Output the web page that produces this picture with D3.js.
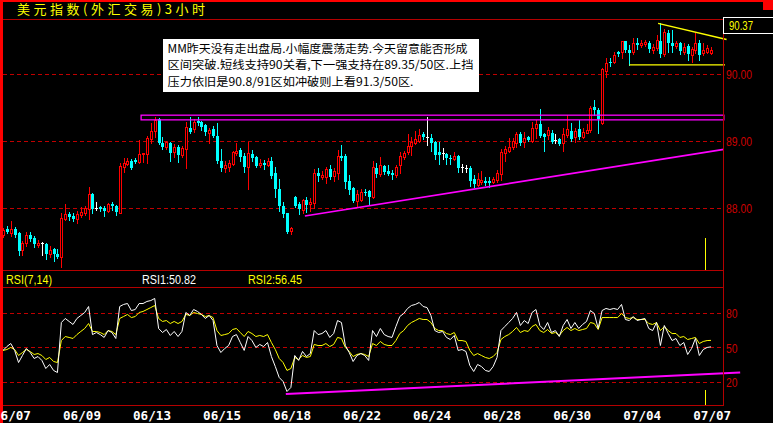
<!DOCTYPE html>
<html><head><meta charset="utf-8">
<script src="https://cdn.jsdelivr.net/npm/d3@7"></script>
<style>html,body{margin:0;padding:0;background:#000;overflow:hidden}</style>
</head><body><svg id="c" width="773" height="423"></svg>
<script>
// ---- data ----
const title = "美元指数(外汇交易)3小时";
// [open, high, low, close] per 3-hour bar
const ohlc = [
[87.60,87.71,87.57,87.68],[87.69,87.74,87.63,87.65],[87.63,87.81,87.59,87.69],[87.69,87.72,87.57,87.60],
[87.63,87.64,87.30,87.36],[87.38,87.51,87.30,87.48],[87.48,87.65,87.44,87.60],[87.60,87.65,87.51,87.54],
[87.56,87.59,87.42,87.47],[87.45,87.53,87.42,87.48],[87.48,87.50,87.30,87.48],[87.47,87.48,87.24,87.32],
[87.32,87.44,87.27,87.38],[87.39,87.41,87.21,87.32],[87.32,87.39,87.26,87.27],[87.27,87.93,87.12,87.86],
[87.84,88.06,87.83,87.92],[87.92,87.95,87.83,87.87],[87.89,87.93,87.81,87.84],[87.84,87.96,87.78,87.92],
[87.90,88.02,87.87,87.95],[87.93,88.03,87.90,88.00],[87.99,88.32,87.84,88.21],[88.21,88.23,87.93,87.99],
[88.00,88.09,87.97,88.00],[88.02,88.03,87.96,87.99],[88.00,88.03,87.89,87.96],[87.96,88.08,87.95,88.06],
[88.06,88.09,87.97,88.03],[88.03,88.05,87.90,87.95],[87.93,88.68,87.93,88.63],[88.62,88.75,88.54,88.68],
[88.66,88.75,88.65,88.71],[88.71,88.74,88.59,88.60],[88.72,88.75,88.68,88.69],[88.69,89.02,88.68,88.81],
[88.81,88.83,88.69,88.83],[88.81,89.08,88.68,89.05],[89.03,89.27,88.97,89.15],[89.15,89.36,89.06,89.32],
[89.33,89.35,88.96,88.97],[88.97,89.06,88.88,88.91],[88.91,89.00,88.88,88.99],[88.97,88.99,88.71,88.83],
[88.84,88.96,88.77,88.92],[88.92,88.95,88.69,88.80],[88.80,88.93,88.77,88.90],[88.89,89.29,88.60,89.21],
[89.20,89.36,89.12,89.14],[89.18,89.33,89.14,89.29],[89.30,89.36,89.24,89.27],[89.29,89.30,89.17,89.21],
[89.24,89.26,89.09,89.14],[89.12,89.20,88.97,89.17],[89.18,89.23,89.06,89.08],[89.08,89.27,88.68,88.71],
[88.71,88.89,88.56,88.60],[88.60,88.71,88.54,88.65],[88.62,88.72,88.56,88.68],[88.66,88.86,88.65,88.84],
[88.83,88.97,88.80,88.86],[88.87,88.90,88.71,88.77],[88.78,88.83,88.54,88.62],[88.62,88.99,88.29,88.83],
[88.81,88.87,88.71,88.75],[88.77,88.78,88.62,88.63],[88.65,88.74,88.62,88.68],[88.68,88.72,88.59,88.65],
[88.65,88.75,88.63,88.71],[88.71,88.77,88.45,88.48],[88.53,88.62,88.17,88.29],[88.29,88.44,87.96,88.03],
[88.03,88.09,87.87,87.92],[87.93,87.93,87.63,87.65],[87.66,87.72,87.62,87.71],[88.17,88.18,88.02,88.03],
[88.06,88.09,87.92,87.99],[87.98,88.14,87.93,88.12],[88.12,88.17,87.95,88.05],[88.06,88.15,87.96,88.09],
[88.08,88.59,88.00,88.53],[88.53,88.60,88.41,88.48],[88.47,88.56,88.44,88.50],[88.47,88.62,88.38,88.59],
[88.59,88.65,88.44,88.47],[88.48,88.60,88.41,88.56],[88.53,88.87,88.44,88.78],[88.78,88.94,88.72,88.75],
[88.78,88.81,88.30,88.39],[88.41,88.50,88.21,88.27],[88.30,88.32,88.09,88.11],[88.11,88.27,88.03,88.21],
[88.12,88.29,88.11,88.24],[88.24,88.29,88.20,88.23],[88.26,88.27,88.06,88.17],[88.17,88.71,88.15,88.62],
[88.60,88.68,88.47,88.51],[88.51,88.77,88.48,88.65],[88.63,88.65,88.51,88.54],[88.56,88.65,88.50,88.51],
[88.53,88.57,88.44,88.50],[88.50,88.65,88.47,88.62],[88.65,88.84,88.53,88.78],[88.77,88.86,88.74,88.83],
[88.84,89.11,88.81,88.93],[88.93,89.06,88.80,88.99],[88.97,89.15,88.96,89.03],[89.00,89.18,88.99,89.09],
[89.11,89.14,89.03,89.06],[89.06,89.36,88.94,89.06],[89.05,89.11,88.86,88.97],[88.99,89.00,88.74,88.80],
[88.84,88.99,88.66,88.80],[88.83,88.90,88.74,88.83],[88.81,88.83,88.66,88.75],[88.75,88.80,88.66,88.74],
[88.74,88.84,88.72,88.78],[88.78,88.80,88.54,88.60],[88.62,88.66,88.54,88.62],[88.60,88.65,88.54,88.60],
[88.60,88.63,88.33,88.41],[88.44,88.50,88.32,88.36],[88.35,88.53,88.33,88.44],[88.39,88.56,88.36,88.42],
[88.41,88.47,88.35,88.38],[88.41,88.47,88.32,88.38],[88.39,88.47,88.38,88.44],[88.42,88.57,88.39,88.53],
[88.51,88.89,88.42,88.84],[88.83,88.93,88.71,88.89],[88.86,89.05,88.84,88.92],[88.92,89.05,88.89,89.00],
[88.97,89.14,88.92,89.11],[89.11,89.14,88.95,88.97],[88.99,89.14,88.92,89.05],[89.06,89.08,89.00,89.02],
[89.00,89.29,88.99,89.20],[89.20,89.32,89.05,89.26],[89.26,89.48,89.06,89.08],[89.11,89.12,88.86,89.06],
[89.09,89.21,89.03,89.17],[89.12,89.17,88.97,88.99],[89.02,89.11,88.97,89.02],[89.03,89.05,88.95,88.96],
[88.97,89.20,88.86,89.11],[89.09,89.39,89.06,89.18],[89.15,89.27,89.00,89.03],[89.06,89.20,88.99,89.15],
[89.18,89.32,89.03,89.06],[89.06,89.20,89.05,89.14],[89.12,89.26,89.12,89.17],[89.17,89.53,89.14,89.50],
[89.51,89.62,89.39,89.47],[89.47,89.50,89.12,89.33],[89.27,90.09,89.26,90.08],[90.05,90.24,89.96,90.17],
[90.18,90.24,90.12,90.17],[90.18,90.33,90.17,90.29],[90.33,90.35,90.27,90.30],[90.33,90.50,90.24,90.50],
[90.50,90.50,90.33,90.36],[90.36,90.44,90.14,90.32],[90.33,90.54,90.30,90.47],[90.47,90.54,90.38,90.44],
[90.44,90.51,90.41,90.47],[90.45,90.51,90.42,90.48],[90.47,90.50,90.33,90.38],[90.36,90.45,90.32,90.41],
[90.39,90.59,90.36,90.51],[90.50,90.77,90.26,90.30],[90.30,90.68,90.27,90.63],[90.62,90.66,90.33,90.47],
[90.47,90.66,90.33,90.42],[90.42,90.50,90.39,90.47],[90.47,90.48,90.30,90.35],[90.33,90.47,90.30,90.41],
[90.42,90.45,90.21,90.30],[90.29,90.41,90.18,90.38],[90.36,90.62,90.32,90.47],[90.47,90.51,90.21,90.29],
[90.32,90.47,90.29,90.36],[90.33,90.44,90.32,90.39],[90.32,90.41,90.30,90.37]
];
const rsi1 = [47.7,51.1,53.7,47.7,37.2,43.3,49.4,45.9,40.7,42.4,39.0,32.0,35.5,30.3,28.5,72.0,75.5,72.9,70.3,75.5,
78.1,80.7,85.9,61.5,63.3,61.5,59.0,65.0,63.3,58.1,85.9,87.7,88.5,82.4,83.3,88.5,88.5,90.3,91.1,92.9,
66.8,63.3,65.9,60.7,64.2,59.8,64.2,80.7,78.1,83.3,81.6,79.0,75.5,78.1,73.7,52.0,45.9,49.4,52.0,59.8,
61.5,54.6,47.7,59.8,56.3,50.3,52.9,51.1,54.6,42.4,33.7,24.2,20.7,12.0,15.5,43.3,39.0,46.8,42.4,45.0,
65.0,61.5,62.4,65.0,59.0,62.4,73.7,72.0,52.0,45.9,38.1,43.3,45.0,43.3,39.0,65.0,59.8,66.8,61.5,59.8,
59.0,68.5,77.2,79.8,84.2,86.8,87.7,89.4,85.9,85.0,78.1,65.0,63.3,64.2,59.0,57.2,60.7,47.7,48.5,46.8,
34.6,29.4,35.5,33.7,30.3,29.4,33.7,41.6,65.0,68.5,72.0,75.5,80.7,69.4,73.7,71.1,80.7,83.3,69.4,65.9,
72.0,63.3,65.0,59.8,69.4,74.6,66.8,72.0,66.8,70.3,72.9,82.4,79.8,66.8,82.4,84.2,83.3,84.2,83.3,87.7,
74.6,73.7,77.2,73.7,74.6,75.5,66.8,65.0,72.0,52.0,69.4,62.4,56.3,58.1,52.0,54.6,44.2,49.4,58.1,43.3,
48.5,50.3,50.82];
const rsi2 = [47.7,48.5,50.3,48.5,43.3,45.9,48.5,46.8,44.2,45.0,43.3,39.8,41.6,38.1,37.2,56.3,59.8,59.0,58.1,61.5,
64.2,66.8,71.1,64.2,64.2,63.3,61.5,65.0,64.2,61.5,75.5,77.2,79.0,76.3,77.2,80.7,81.6,83.3,85.0,86.8,
75.5,72.9,73.7,71.1,72.9,71.1,72.9,79.0,78.1,80.7,79.8,79.0,77.2,78.1,76.3,65.0,60.7,61.5,62.4,65.9,
66.8,63.3,59.8,64.2,62.4,59.8,60.7,59.8,61.5,54.6,48.5,40.7,37.2,30.3,32.0,41.6,39.8,43.3,41.6,42.4,
52.9,52.0,52.0,53.7,51.1,52.9,59.0,58.1,50.3,46.8,42.4,44.2,45.0,44.2,42.4,53.7,52.0,55.5,52.9,52.0,
52.0,56.3,62.4,65.0,69.4,72.0,73.7,75.5,74.6,74.6,72.0,66.8,65.0,65.0,62.4,61.5,63.3,56.3,56.3,55.5,
47.7,43.3,45.0,43.3,41.6,40.7,42.4,45.9,57.2,59.8,61.5,64.2,67.7,63.3,65.0,64.2,68.5,70.3,65.0,63.3,
65.9,62.4,63.3,60.7,65.0,67.7,65.0,66.8,65.0,65.9,66.8,72.0,71.1,65.9,76.3,76.3,76.3,76.3,76.3,79.8,
76.3,75.5,76.3,74.6,74.6,74.6,71.1,70.3,72.0,65.0,68.5,65.0,62.4,62.4,59.0,59.8,57.2,58.1,59.0,53.7,
55.5,56.3,56.45];
const dateLabels = ["06/07","06/09","06/13","06/15","06/18","06/22","06/24","06/28","06/30","07/04","07/07"];
const dateIndex  = [2,20,38,56,74,92,110,128,146,164,182];
const priceTicks = [88,89,90];
const rsiTicks = [20,50,80];
const lastPrice = 90.37, rsi1Last = 50.82, rsi2Last = 56.45;
const noteLines = [
 "MM昨天没有走出盘局.小幅度震荡走势.今天留意能否形成",
 "区间突破.短线支持90关看,下一强支持在89.35/50区.上挡",
 "压力依旧是90.8/91区如冲破则上看91.3/50区."
];
// drawn annotations in data space [barIndex, value]
const boxZone = [[35.5,89.39],[185.3,89.32]];
const supportLine = [[77.6,87.885],[185.3,88.88]];
const flatLine = [[161,90.14],[185.6,90.14]];
const fallLine = [[168.4,90.76],[186,90.52]];
const rsiLine = [[72.7,9.8],[189.5,28.5]];
const cursorIndex = 180.5;

// ---- drawing ----
const svg = d3.select('#c').attr('shape-rendering','crispEdges');
const x = d3.scaleLinear().domain([0,182]).range([3,711]);
const yP = d3.scaleLinear().domain([88,90]).range([208.3,74.3]);
const yR = d3.scaleLinear().domain([20,80]).range([382.3,313.3]);
const RED='#ff0000', DRED='#b40000', GRID='#c00000', CYAN='#00ffff', YEL='#ffff00', MAG='#ff00ff';

svg.append('rect').attr('width',773).attr('height',423).attr('fill','#000');

// grid lines
const gP = svg.append('g');
priceTicks.forEach(t=>{
  const yy=Math.floor(yP(t))+0.5;
  gP.append('line').attr('x1',3).attr('x2',723).attr('y1',yy).attr('y2',yy)
    .attr('stroke',GRID).attr('stroke-dasharray','4,3');
});
rsiTicks.forEach(t=>{
  const yy=Math.floor(yR(t))+0.5;
  gP.append('line').attr('x1',3).attr('x2',723).attr('y1',yy).attr('y2',yy)
    .attr('stroke',GRID).attr('stroke-dasharray','4,3');
});

// annotation box
const ng = svg.append('g');
ng.append('rect').attr('x',163).attr('y',39).attr('width',316).attr('height',53).attr('fill','#fff');
const noteW=[300,306,246], noteY=[52.5,69,85.5];
noteLines.forEach((s,i)=>{
  ng.append('text').attr('x',167.5).attr('y',noteY[i]).text(s)
    .attr('font-family','"Noto Sans CJK SC","Noto Sans CJK JP",sans-serif').attr('font-size',11.5)
    .attr('fill','#000').attr('textLength',noteW[i]).attr('lengthAdjust','spacingAndGlyphs');
});

// candles
const cg = svg.append('g');
ohlc.forEach((d,i)=>{
  const [o,h,l,c]=d;
  const cx=Math.round(x(i));
  const top=Math.round(yP(Math.max(o,c))), bot=Math.round(yP(Math.min(o,c)));
  const yh=Math.round(yP(h)), yl=Math.round(yP(l));
  if (Math.abs(c-o)<0.005) {
    cg.append('line').attr('x1',cx+0.5).attr('x2',cx+0.5).attr('y1',yh).attr('y2',yl+1).attr('stroke','#fff');
    cg.append('line').attr('x1',cx-1).attr('x2',cx+2).attr('y1',top+0.5).attr('y2',top+0.5).attr('stroke','#fff');
  } else if (c>o) {
    cg.append('line').attr('x1',cx+0.5).attr('x2',cx+0.5).attr('y1',yh).attr('y2',top).attr('stroke',RED);
    cg.append('line').attr('x1',cx+0.5).attr('x2',cx+0.5).attr('y1',bot).attr('y2',yl+1).attr('stroke',RED);
    cg.append('rect').attr('x',cx-0.5).attr('y',top+0.5).attr('width',2).attr('height',Math.max(bot-top,1))
      .attr('fill','#000').attr('stroke',RED);
  } else {
    cg.append('line').attr('x1',cx+0.5).attr('x2',cx+0.5).attr('y1',yh).attr('y2',yl+1).attr('stroke',CYAN);
    cg.append('rect').attr('x',cx-1).attr('y',top).attr('width',3).attr('height',Math.max(bot-top,1)).attr('fill',CYAN);
  }
});

// price annotations
const ag = svg.append('g').attr('shape-rendering','auto');
ag.append('rect').attr('x',x(boxZone[0][0])).attr('y',yP(boxZone[0][1]))
  .attr('width',x(boxZone[1][0])-x(boxZone[0][0])).attr('height',yP(boxZone[1][1])-yP(boxZone[0][1]))
  .attr('fill','none').attr('stroke',MAG).attr('stroke-width',1.3);
const pl = d3.line().x(d=>x(d[0])).y(d=>yP(d[1]));
ag.append('path').attr('d',pl(supportLine)).attr('stroke',MAG).attr('stroke-width',1.6).attr('fill','none');
ag.append('path').attr('d',pl(flatLine)).attr('stroke',YEL).attr('stroke-width',1.3).attr('fill','none');
ag.append('path').attr('d',pl(fallLine)).attr('stroke',YEL).attr('stroke-width',1.5).attr('fill','none');

// RSI lines
const rl = d3.line().x((d,i)=>x(i)).y(d=>yR(d));
const rg = svg.append('g').attr('shape-rendering','auto');
rg.append('path').attr('d',rl(rsi2)).attr('stroke',YEL).attr('stroke-width',1).attr('fill','none');
rg.append('path').attr('d',rl(rsi1)).attr('stroke','#fff').attr('stroke-width',1).attr('fill','none');
rg.append('path').attr('d',d3.line().x(d=>x(d[0])).y(d=>yR(d[1]))(rsiLine))
  .attr('stroke',MAG).attr('stroke-width',2).attr('fill','none');

// cursor
const cxr=Math.round(x(cursorIndex))+0.5;
svg.append('line').attr('x1',cxr).attr('x2',cxr).attr('y1',238).attr('y2',270).attr('stroke',YEL);
svg.append('line').attr('x1',cxr).attr('x2',cxr).attr('y1',390).attr('y2',405).attr('stroke',YEL);

// frames
const fr = svg.append('g');
[[3,723,19.5,19.5],[3,723,270.5,270.5],[3,723,287.5,287.5],[3,723,405.5,405.5],[723.5,723.5,19,406]].forEach(a=>{
  fr.append('line').attr('x1',a[0]).attr('x2',a[1]).attr('y1',a[2]).attr('y2',a[3]).attr('stroke',DRED);
});
svg.append('rect').attr('x',0).attr('y',0).attr('width',3).attr('height',423).attr('fill',RED);
svg.append('rect').attr('x',0).attr('y',0).attr('width',773).attr('height',2).attr('fill',RED);
svg.append('rect').attr('x',763).attr('y',0).attr('width',10).attr('height',10).attr('fill',RED);

// axes
const numFont='"Liberation Sans",Arial,sans-serif';
const axP = svg.append('g').attr('transform','translate(724,0)')
  .call(d3.axisRight(yP).tickValues(priceTicks).tickFormat(d3.format('.2f')).tickSize(0).tickPadding(2));
axP.select('.domain').remove();
axP.selectAll('text').attr('fill','#cc0000').attr('font-family',numFont).attr('font-size',12.5)
  .attr('textLength',26).attr('lengthAdjust','spacingAndGlyphs').attr('dy','0.36em');
const axR = svg.append('g').attr('transform','translate(724,0)')
  .call(d3.axisRight(yR).tickValues(rsiTicks).tickFormat(d3.format('d')).tickSize(0).tickPadding(2));
axR.select('.domain').remove();
axR.selectAll('text').attr('fill','#cc0000').attr('font-family',numFont).attr('font-size',12.5)
  .attr('textLength',11.5).attr('lengthAdjust','spacingAndGlyphs').attr('dy','0.36em');
const axD = svg.append('g').attr('transform','translate(0.7,406)')
  .call(d3.axisBottom(x).tickValues(dateIndex).tickFormat((d,i)=>dateLabels[i]).tickSize(0).tickPadding(0));
axD.select('.domain').remove();
axD.selectAll('text').attr('fill','#fff').attr('font-family','"DejaVu Sans Mono",monospace')
  .attr('font-weight','bold').attr('font-size',13).attr('dy',null).attr('y',14)
  .attr('textLength',38).attr('lengthAdjust','spacingAndGlyphs');
svg.selectAll('.tick line').remove();
[axP,axR,axD].forEach(a=>a.attr('font-family',null).attr('font-size',null));

// last price box
svg.append('rect').attr('x',723.5).attr('y',17.5).attr('width',60).attr('height',16)
  .attr('fill','#000').attr('stroke','#fff');
svg.append('text').attr('x',729).attr('y',30).text(d3.format('.2f')(lastPrice))
  .attr('fill',YEL).attr('font-family',numFont).attr('font-size',12.5)
  .attr('textLength',24).attr('lengthAdjust','spacingAndGlyphs');

// title
svg.append('text').attr('x',17).attr('y',14).text(title).attr('fill',YEL)
  .attr('font-family','"Noto Sans CJK SC",sans-serif').attr('font-size',13)
  .attr('textLength',188).attr('lengthAdjust','spacing');

// RSI header
const hdr=[["RSI(7,14)",6,46,YEL],["RSI1:"+rsi1Last.toFixed(2),142,54,'#fff'],["RSI2:"+rsi2Last.toFixed(2),248,54,YEL]];
hdr.forEach(h=>{
  svg.append('text').attr('x',h[1]).attr('y',284).text(h[0]).attr('fill',h[3])
    .attr('font-family',numFont).attr('font-size',12.5)
    .attr('textLength',h[2]).attr('lengthAdjust','spacingAndGlyphs');
});
</script></body></html>
